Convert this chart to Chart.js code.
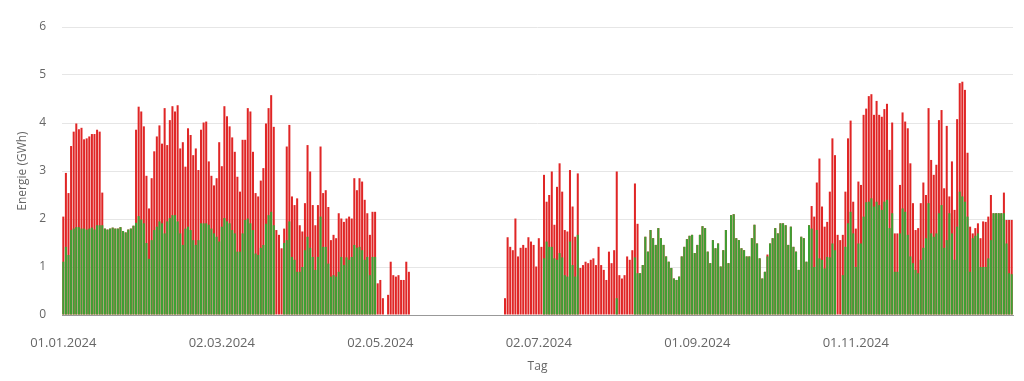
<!DOCTYPE html>
<html>
<head>
<meta charset="utf-8">
<script src="https://cdn.jsdelivr.net/npm/chart.js@4.4.1/dist/chart.umd.min.js"></script>
<style>
  html, body { margin: 0; padding: 0; background: #fff; }
  #wrap { width: 1024px; height: 381px; }
</style>
</head>
<body>
<div id="wrap"><canvas id="energieChart"></canvas></div>
<script>
// Tageswerte 2024 (GWh): Gesamt = Hoehe des roten Balkens, gruen = gruener Anteil
var gesamt = [
    2.05, 2.96, 2.54, 3.52, 3.82, 3.99, 3.87, 3.9, 3.66, 3.68,
    3.72, 3.77, 3.77, 3.86, 3.82, 2.55, 1.8, 1.78, 1.8, 1.82,
    1.8, 1.8, 1.83, 1.75, 1.72, 1.78, 1.8, 1.86, 3.86, 4.34,
    4.24, 3.93, 2.9, 2.22, 2.85, 3.41, 3.72, 3.95, 3.57, 4.31,
    3.54, 4.06, 4.35, 4.24, 4.37, 3.47, 3.6, 3.09, 3.89, 3.75,
    3.33, 3.47, 3.02, 3.86, 4.01, 4.03, 3.2, 2.9, 2.7, 2.85,
    3.6, 3.1, 4.35, 4.14, 3.93, 3.7, 3.4, 2.88, 2.57, 3.65,
    3.65, 4.31, 4.24, 3.4, 2.54, 2.47, 2.8, 3.06, 3.99, 4.31,
    4.58, 3.92, 1.77, 1.67, 1.39, 1.8, 3.51, 3.96, 2.47, 2.29,
    2.43, 1.87, 1.74, 2.33, 3.54, 2.99, 2.29, 1.87, 2.29, 3.51,
    2.54, 2.6, 2.25, 1.56, 1.67, 1.6, 2.12, 2.01, 1.94, 2.01,
    2.05, 2.01, 2.85, 2.6, 2.85, 2.78, 2.4, 2.12, 1.67, 2.15,
    2.15, 0.66, 0.73, 0.35, 0, 0.42, 1.11, 0.83, 0.8, 0.83,
    0.73, 0.73, 1.11, 0.9, 0, 0, 0, 0, 0, 0,
    0, 0, 0, 0, 0, 0, 0, 0, 0, 0,
    0, 0, 0, 0, 0, 0, 0, 0, 0, 0,
    0, 0, 0, 0, 0, 0, 0, 0, 0, 0,
    0.35, 1.62, 1.42, 1.35, 2.01, 1.22, 1.4, 1.46, 1.4, 1.62,
    1.53, 1.46, 1.01, 1.6, 1.42, 2.92, 2.36, 2.5, 2.99, 1.88,
    2.67, 3.16, 2.57, 1.77, 1.74, 3.02, 2.26, 1.63, 2.95, 0.98,
    1.04, 1.11, 1.08, 1.15, 1.18, 1.04, 1.42, 1.04, 0.94, 0.73,
    1.32, 1.08, 1.35, 2.99, 0.83, 0.76, 0.83, 1.22, 1.15, 1.35,
    2.74, 1.9, 0.87, 1.04, 1.63, 1.32, 1.77, 1.6, 1.46, 1.81,
    1.6, 1.46, 1.22, 1.11, 0.98, 0.76, 0.73, 0.8, 1.22, 1.42,
    1.58, 1.65, 1.67, 1.29, 1.46, 1.67, 1.85, 1.81, 1.32, 1.08,
    1.56, 1.39, 1.49, 1.01, 1.35, 1.77, 1.08, 2.08, 2.1, 1.6,
    1.56, 1.39, 1.35, 1.22, 1.22, 1.6, 1.88, 1.49, 1.18, 0.76,
    0.9, 1.26, 1.49, 1.6, 1.81, 1.7, 1.91, 1.91, 1.87, 1.46,
    1.84, 1.42, 1.32, 0.94, 1.63, 1.6, 1.11, 1.87, 2.27, 2.05,
    2.76, 3.26, 2.26, 1.84, 1.94, 2.57, 3.68, 3.33, 1.67, 1.56,
    1.67, 2.57, 3.68, 4.05, 2.36, 1.8, 2.78, 2.71, 4.17, 4.3,
    4.56, 4.6, 4.17, 4.46, 4.17, 4.13, 4.29, 4.4, 3.44, 4.01,
    1.7, 1.7, 2.71, 4.22, 4.03, 3.89, 3.16, 2.33, 1.77, 1.81,
    2.33, 2.76, 2.5, 4.31, 3.23, 2.92, 3.13, 4.06, 4.27, 2.64,
    3.94, 2.47, 3.2, 2.19, 4.08, 4.83, 4.86, 4.69, 3.38, 1.84,
    1.7, 1.81, 1.91, 1.6, 1.95, 1.94, 2.05, 2.5, 2.12, 2.12,
    2.12, 2.12, 2.55, 1.98, 1.98, 1.98
];
var gruen = [
    1.11, 1.42, 1.25, 1.77, 1.8, 1.83, 1.83, 1.8, 1.8, 1.78,
    1.8, 1.82, 1.78, 1.87, 1.87, 1.87, 1.8, 1.78, 1.8, 1.82,
    1.8, 1.8, 1.83, 1.75, 1.72, 1.78, 1.8, 1.86, 1.92, 2.06,
    1.99, 1.91, 1.5, 1.17, 1.56, 1.77, 1.84, 1.95, 1.91, 1.7,
    1.95, 2.02, 2.08, 2.08, 1.95, 1.7, 1.46, 1.8, 1.84, 1.77,
    1.56, 1.46, 1.56, 1.91, 1.91, 1.91, 1.88, 1.8, 1.7, 1.63,
    1.53, 1.84, 2.02, 1.95, 1.91, 1.77, 1.7, 1.32, 1.32, 1.7,
    1.98, 2.01, 1.91, 1.77, 1.28, 1.25, 1.4, 1.46, 1.9, 2.08,
    2.15, 1.87, 0, 0, 0, 1.5, 1.56, 1.95, 1.21, 1.15,
    0.9, 0.9, 1.0, 1.35, 1.63, 1.4, 1.21, 0.94, 1.21, 2.05,
    1.42, 1.42, 1.07, 0.8, 0.83, 0.8, 0.9, 1.21, 1.04, 1.2,
    1.15, 1.21, 1.46, 1.4, 1.42, 1.35, 1.15, 1.21, 0.83, 1.21,
    1.21, 0, 0, 0, 0, 0, 0, 0, 0, 0,
    0, 0, 0, 0, 0, 0, 0, 0, 0, 0,
    0, 0, 0, 0, 0, 0, 0, 0, 0, 0,
    0, 0, 0, 0, 0, 0, 0, 0, 0, 0,
    0, 0, 0, 0, 0, 0, 0, 0, 0, 0,
    0, 0, 0, 0, 0, 0, 0, 0, 0, 0,
    0, 0, 0, 0, 0, 1.18, 1.53, 1.42, 1.42, 1.18,
    1.15, 1.29, 1.2, 0.83, 0.8, 1.53, 1.04, 0.8, 1.67, 0,
    0, 0, 0, 0, 0, 0, 0, 0, 0, 0,
    0, 0, 0, 0.35, 0, 0, 0, 0, 0, 0,
    1.2, 0.87, 0.87, 1.04, 1.63, 1.32, 1.77, 1.6, 1.46, 1.81,
    1.6, 1.46, 1.22, 1.11, 0.98, 0.76, 0.73, 0.8, 1.22, 1.42,
    1.58, 1.65, 1.67, 1.29, 1.46, 1.67, 1.85, 1.81, 1.32, 1.08,
    1.56, 1.39, 1.49, 1.01, 1.35, 1.77, 1.08, 2.08, 2.1, 1.6,
    1.56, 1.39, 1.35, 1.22, 1.22, 1.6, 1.88, 1.49, 1.18, 0.76,
    0.9, 1.22, 1.49, 1.6, 1.81, 1.7, 1.91, 1.91, 1.87, 1.46,
    1.84, 1.42, 1.32, 0.94, 1.63, 1.6, 1.11, 1.87, 1.8, 1.0,
    1.77, 1.18, 1.15, 0.97, 1.21, 1.2, 1.49, 1.35, 0, 0,
    0.83, 1.42, 1.91, 2.15, 1.7, 1.0, 1.49, 1.49, 2.05, 2.35,
    2.36, 2.43, 2.26, 2.36, 2.29, 2.19, 2.36, 2.4, 1.81, 2.12,
    0.9, 0.9, 1.7, 2.22, 2.15, 1.67, 1.22, 1.08, 0.94, 0.87,
    1.15, 1.4, 1.6, 2.33, 1.7, 1.63, 1.7, 2.12, 2.29, 1.4,
    1.56, 2.12, 1.7, 1.15, 1.84, 2.57, 2.47, 2.36, 2.05, 0.9,
    1.6, 1.65, 1.7, 1.0, 1.0, 1.0, 1.18, 1.56, 2.12, 2.12,
    2.12, 2.12, 2.12, 1.49, 0.87, 0.85
];

// Kategorien: ein Tag pro Balken ab 01.01.2024
function zwei(n) { return (n < 10 ? '0' : '') + n; }
var tage = [];
for (var i = 0; i < gesamt.length; i++) {
    var d = new Date(2024, 0, 1 + i);
    tage.push(zwei(d.getDate()) + '.' + zwei(d.getMonth() + 1) + '.' + d.getFullYear());
}
var tickAbstand = 61;
var yTicks = [0, 1, 2, 3, 4, 5, 6];

Chart.defaults.font.family = '"Open Sans", sans-serif';
Chart.defaults.color = '#666';

var ctx = document.getElementById('energieChart').getContext('2d');
new Chart(ctx, {
    type: 'bar',
    data: {
        labels: tage,
        datasets: [{
            label: 'Anteil gruen',
            data: gruen,
            backgroundColor: '#3ca134',
            grouped: false,
            barPercentage: 1,
            categoryPercentage: 0.78
        }, {
            label: 'Gesamt',
            data: gesamt,
            backgroundColor: '#e02626',
            grouped: false,
            barPercentage: 1,
            categoryPercentage: 0.78
        }]
    },
    options: {
        responsive: true,
        maintainAspectRatio: false,
        animation: false,
        layout: { padding: { top: 27, right: 11, left: 0, bottom: 0 } },
        plugins: {
            legend: { display: false },
            tooltip: { enabled: false }
        },
        scales: {
            x: {
                grid: { display: false },
                border: { display: true, color: '#999', width: 1 },
                ticks: {
                    autoSkip: false,
                    maxRotation: 0,
                    padding: 12,
                    font: { size: 13 },
                    callback: function (val, idx) { return tage[val]; }
                },
                afterBuildTicks: function (scale) {
                    scale.ticks = scale.ticks.filter(function (t) { return t.value % tickAbstand === 0; });
                },
                afterFit: function (scale) { scale.height = 66; },
                title: { display: true, text: 'Tag', font: { size: 12 }, padding: { top: 0, bottom: 7 } }
            },
            y: {
                min: 0,
                max: 6,
                afterBuildTicks: function (scale) {
                    scale.ticks = yTicks.map(function (v) { return { value: v }; });
                },
                grid: { color: '#e6e6e6', drawTicks: false },
                border: { display: false },
                ticks: { padding: 16, font: { size: 12 } },
                afterFit: function (scale) { scale.width = 62; },
                title: { display: true, text: 'Energie (GWh)', font: { size: 12 }, padding: { top: 15, bottom: 0 } }
            }
        }
    }
});
</script>
</body>
</html>
